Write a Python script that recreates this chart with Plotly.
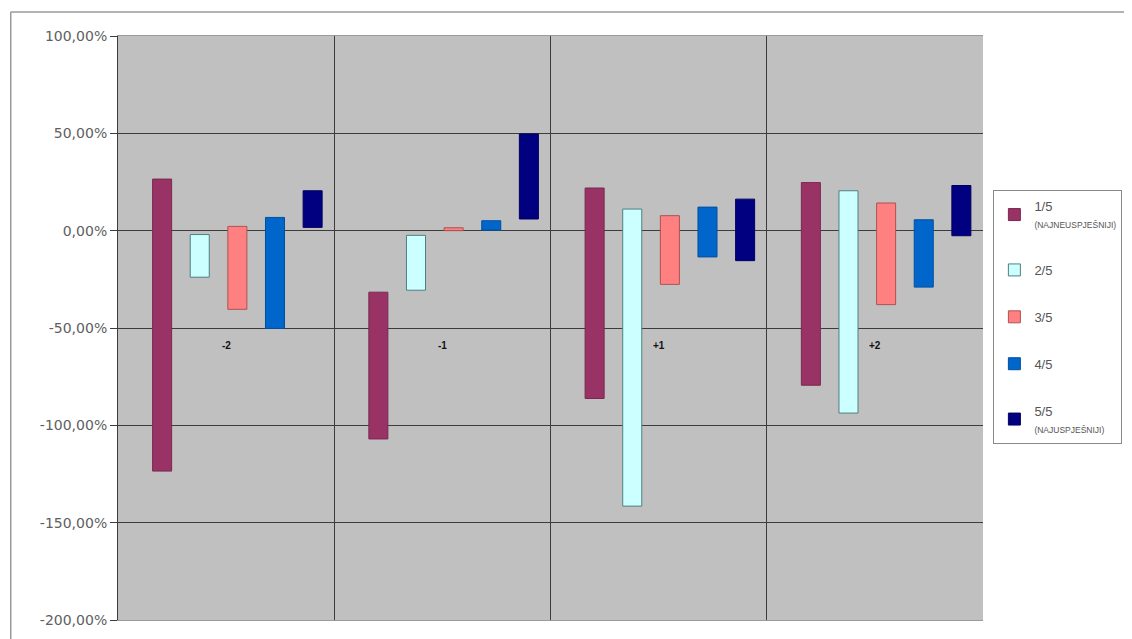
import plotly.graph_objects as go

# Kategorije i serije
kategorije = ["-2", "-1", "+1", "+2"]
serije = ["1/5", "2/5", "3/5", "4/5", "5/5"]
podnaslovi = ["(NAJNEUSPJEŠNIJI)", "", "", "", "(NAJUSPJEŠNIJI)"]

# Gornji i donji rub svake plutajuće trake (u %)
vrh_1 = [26.5, -31.6, 21.9, 24.7]
dno_1 = [-123.5, -107.0, -86.2, -79.4]
vrh_2 = [-2.0, -2.4, 11.1, 20.5]
dno_2 = [-23.9, -30.6, -141.5, -93.7]
vrh_3 = [2.2, 1.5, 7.7, 14.2]
dno_3 = [-40.4, 0.0, -27.6, -38.0]
vrh_4 = [6.8, 5.1, 12.1, 5.6]
dno_4 = [-50.2, 0.3, -13.5, -29.0]
vrh_5 = [20.5, 49.7, 16.2, 23.2]
dno_5 = [1.7, 6.0, -15.4, -2.6]

# Os Y
y_vrijednosti = [-2.0, -1.5, -1.0, -0.5, 0.0, 0.5, 1.0]
y_oznake = ["-200,00%", "-150,00%", "-100,00%", "-50,00%", "0,00%", "50,00%", "100,00%"]

vrhovi = [vrh_1, vrh_2, vrh_3, vrh_4, vrh_5]
dna = [dno_1, dno_2, dno_3, dno_4, dno_5]

boje = ["#993366", "#CCFFFF", "#FF8080", "#0066CC", "#000080"]
rubovi = ["#7a2850", "#4f7f7f", "#b05050", "#0050a0", "#000060"]

fig = go.Figure()
x_idx = list(range(len(kategorije)))

for i, s in enumerate(serije):
    baza = [d / 100 for d in dna[i]]
    visina = [(v - d) / 100 for v, d in zip(vrhovi[i], dna[i])]
    ime = s if not podnaslovi[i] else (
        f"{s}<br><span style='font-size:8.5px'>{podnaslovi[i]}</span>")
    fig.add_trace(go.Bar(
        x=x_idx,
        y=visina,
        base=baza,
        name=ime,
        legendgroup=s,
        width=0.088,
        offset=-0.34 + i * 0.174,
        marker=dict(color=boje[i], line=dict(color=rubovi[i], width=1)),
    ))

# Oznake kategorija unutar grafikona
for i, k in enumerate(kategorije):
    fig.add_annotation(
        x=i, y=-0.59, text=f"<b>{k}</b>", showarrow=False,
        font=dict(size=10, color="#111111", family="Liberation Sans, Arial"),
    )

# Okvir cijelog grafikona
fig.add_shape(type="line", xref="paper", yref="paper",
              x0=-0.124, x1=1.2, y0=1.041, y1=1.041,
              line=dict(color="#9a9a9a", width=1.5))
fig.add_shape(type="line", xref="paper", yref="paper",
              x0=-0.124, x1=-0.124, y0=-0.06, y1=1.041,
              line=dict(color="#9a9a9a", width=1.5))

fig.update_layout(
    width=1132, height=639,
    margin=dict(l=110, r=157, t=28, b=27),
    paper_bgcolor="white",
    plot_bgcolor="#C0C0C0",
    barmode="overlay",
    font=dict(family="Liberation Sans, Arial", size=12, color="#555555"),
    xaxis=dict(
        range=[-0.5, 3.5],
        tickvals=[0.5, 1.5, 2.5],
        showticklabels=False,
        showgrid=True, gridcolor="#3c3c3c", gridwidth=1,
        zeroline=False, ticks="",
        showline=True, linecolor="#9a9a9a", mirror=True,
    ),
    yaxis=dict(
        range=[-2.0, 1.0],
        tickvals=y_vrijednosti,
        ticktext=y_oznake,
        showgrid=True, gridcolor="#3c3c3c", gridwidth=1,
        zeroline=False,
        ticks="outside", ticklen=7, tickcolor="#3c3c3c",
        showline=True, linecolor="#3c3c3c", mirror=False,
        tickfont=dict(size=14, color="#606060", family="DejaVu Sans"),
    ),
    legend=dict(
        x=1.012, y=0.736, xanchor="left", yanchor="top",
        bgcolor="white", bordercolor="#8a8a8a", borderwidth=1,
        traceorder="grouped", tracegroupgap=27,
        font=dict(size=13, color="#555555"),
        itemwidth=30,
    ),
    showlegend=True,
)

fig.write_html("out.html")
